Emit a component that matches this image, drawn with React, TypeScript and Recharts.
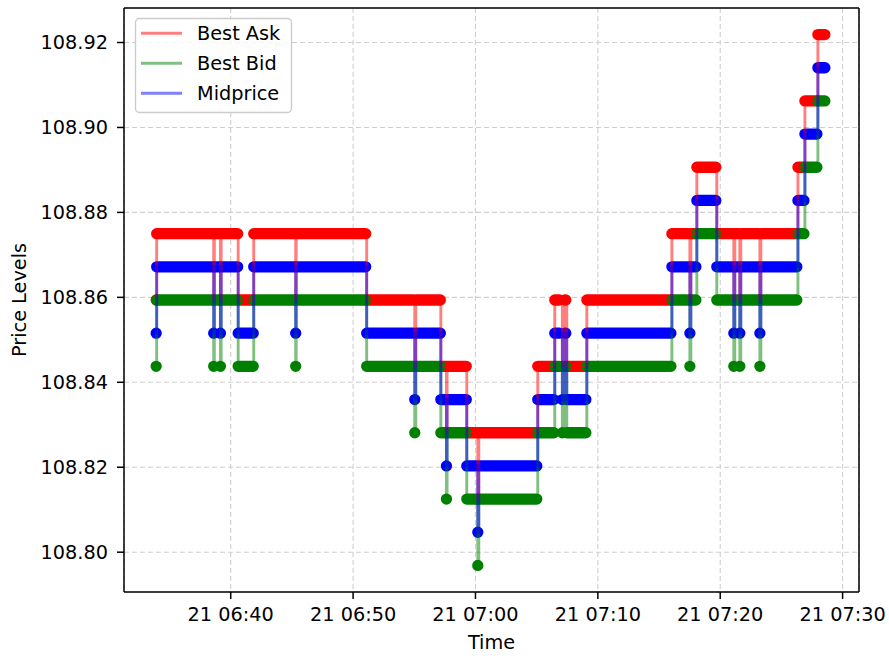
import { ComposedChart, Line, XAxis, YAxis, CartesianGrid } from "recharts";

// quote states: time in minutes after 06:00 on the 21st
// start = first quote at that level, end = last quote before the next change
const quoteStart = [
  33.91, 33.95, 38.61, 38.66, 39.16, 39.22, 40.61, 41.88, 45.31, 45.35,
  51.11, 55.04, 55.12, 57.17, 57.63, 57.68, 59.29, 60.19, 60.27, 65.09,
  66.48, 67.1, 67.3, 67.46, 69.1, 76.05, 77.52, 77.6, 78.09, 79.72,
  81.11, 81.19, 81.6, 81.68, 83.24, 83.32, 86.35, 86.92, 87.98,
];
const quoteEnd = [
  33.91, 38.53, 38.61, 39.1, 39.16, 40.57, 41.84, 45.23, 45.31, 51.03,
  54.96, 55.04, 57.13, 57.57, 57.63, 59.25, 60.15, 60.19, 65.01, 66.4,
  66.85, 67.1, 67.38, 69.02, 75.97, 77.44, 77.52, 78.01, 79.64, 81.03,
  81.11, 81.52, 81.6, 83.16, 83.24, 86.26, 86.84, 87.9, 88.55,
];
const bestAsk = [
  108.859375, 108.875, 108.859375, 108.875, 108.859375, 108.875, 108.859375, 108.875, 108.859375, 108.875,
  108.859375, 108.84375, 108.859375, 108.84375, 108.828125, 108.84375, 108.828125, 108.8125, 108.828125, 108.84375,
  108.859375, 108.84375, 108.859375, 108.84375, 108.859375, 108.875, 108.859375, 108.875, 108.890625, 108.875,
  108.859375, 108.875, 108.859375, 108.875, 108.859375, 108.875, 108.890625, 108.90625, 108.921875,
];
const bestBid = [
  108.84375, 108.859375, 108.84375, 108.859375, 108.84375, 108.859375, 108.84375, 108.859375, 108.84375, 108.859375,
  108.84375, 108.828125, 108.84375, 108.828125, 108.8125, 108.828125, 108.8125, 108.796875, 108.8125, 108.828125,
  108.84375, 108.828125, 108.84375, 108.828125, 108.84375, 108.859375, 108.84375, 108.859375, 108.875, 108.859375,
  108.84375, 108.859375, 108.84375, 108.859375, 108.84375, 108.859375, 108.875, 108.890625, 108.90625,
];
const midprice = [
  108.8515625, 108.8671875, 108.8515625, 108.8671875, 108.8515625, 108.8671875, 108.8515625, 108.8671875, 108.8515625, 108.8671875,
  108.8515625, 108.8359375, 108.8515625, 108.8359375, 108.8203125, 108.8359375, 108.8203125, 108.8046875, 108.8203125, 108.8359375,
  108.8515625, 108.8359375, 108.8515625, 108.8359375, 108.8515625, 108.8671875, 108.8515625, 108.8671875, 108.8828125, 108.8671875,
  108.8515625, 108.8671875, 108.8515625, 108.8671875, 108.8515625, 108.8671875, 108.8828125, 108.8984375, 108.9140625,
];

const timeTicks = [40, 50, 60, 70, 80, 90];
const priceTicks = [108.8, 108.82, 108.84, 108.86, 108.88, 108.9, 108.92];

const series = [
  { name: "Best Ask", color: "#ff0000", values: bestAsk },
  { name: "Best Bid", color: "#008000", values: bestBid },
  { name: "Midprice", color: "#0000ff", values: midprice },
];

const FONT = 19.3;

// thick runs of markers: start..end per state, broken between states
const markerRuns = (values: number[]) =>
  values.flatMap((v, i) => [
    { t: quoteStart[i], v },
    { t: quoteEnd[i], v },
    { t: quoteEnd[i], v: null },
  ]);

// step line through every state change
const stepLine = (values: number[]) => [
  ...values.map((v, i) => ({ t: quoteStart[i], v })),
  { t: quoteEnd[quoteEnd.length - 1], v: values[values.length - 1] },
];

const fmtTime = (m: number) => {
  const h = 6 + Math.floor(m / 60);
  const mm = Math.round(m % 60);
  return `21 ${String(h).padStart(2, "0")}:${String(mm).padStart(2, "0")}`;
};

export default function App() {
  return (
    <div
      style={{
        position: "relative",
        width: 889,
        height: 656,
        background: "#fff",
        fontFamily: "'DejaVu Sans', sans-serif",
      }}
    >
      <style>{`body{margin:0}`}</style>
      <ComposedChart
        width={889}
        height={656}
        margin={{ top: 8, right: 30, bottom: 0, left: 0 }}
      >
        <CartesianGrid stroke="#cfcfcf" strokeWidth={1.1} strokeDasharray="5 3" />
        <XAxis
          dataKey="t"
          type="number"
          domain={[31.28, 91.34]}
          allowDataOverflow
          ticks={timeTicks}
          tickFormatter={fmtTime}
          height={64}
          tickSize={7}
          tickMargin={8}
          axisLine={{ stroke: "#000", strokeWidth: 1.5 }}
          tickLine={{ stroke: "#000", strokeWidth: 1.5 }}
          tick={{ fill: "#000", fontSize: FONT }}
          label={{ value: "Time", position: "insideBottom", offset: 7, fill: "#000", fontSize: FONT }}
        />
        <YAxis
          type="number"
          domain={[108.790625, 108.928125]}
          allowDataOverflow
          ticks={priceTicks}
          tickFormatter={(v: number) => v.toFixed(2)}
          width={124}
          tickSize={7}
          tickMargin={9}
          axisLine={{ stroke: "#000", strokeWidth: 1.5 }}
          tickLine={{ stroke: "#000", strokeWidth: 1.5 }}
          tick={{ fill: "#000", fontSize: FONT }}
          label={() => (
            <text
              x={26}
              y={300}
              transform="rotate(-90, 26, 300)"
              textAnchor="middle"
              fontSize={FONT}
              fill="#000"
            >
              Price Levels
            </text>
          )}
        />
        {series.map((s) => (
          <Line
            key={s.name + "-runs"}
            data={markerRuns(s.values)}
            dataKey="v"
            type="linear"
            stroke={s.color}
            strokeWidth={11.3}
            strokeLinecap="round"
            strokeLinejoin="round"
            dot={false}
            activeDot={false}
            legendType="none"
            isAnimationActive={false}
          />
        ))}
        {series.map((s) => (
          <Line
            key={s.name}
            name={s.name}
            data={stepLine(s.values)}
            dataKey="v"
            type="stepAfter"
            stroke={s.color}
            strokeOpacity={0.5}
            strokeWidth={2.9}
            dot={false}
            activeDot={false}
            isAnimationActive={false}
          />
        ))}
      </ComposedChart>
      <svg
        width={889}
        height={656}
        style={{ position: "absolute", left: 0, top: 0, pointerEvents: "none" }}
      >
        <line x1={124} y1={8} x2={859} y2={8} stroke="#000" strokeWidth={1.5} />
        <line x1={859} y1={8} x2={859} y2={592} stroke="#000" strokeWidth={1.5} />
        <rect
          x={135.5}
          y={18.5}
          width={156}
          height={94}
          rx={4}
          fill="#fff"
          fillOpacity={0.8}
          stroke="#cccccc"
          strokeWidth={1.4}
        />
        {series.map((s, i) => (
          <g key={s.name}>
            <line
              x1={141}
              x2={182}
              y1={33.3 + i * 30}
              y2={33.3 + i * 30}
              stroke={s.color}
              strokeOpacity={0.5}
              strokeWidth={2.9}
            />
            <text x={197} y={40.3 + i * 30} fontSize={FONT} fill="#000">
              {s.name}
            </text>
          </g>
        ))}
      </svg>
    </div>
  );
}
